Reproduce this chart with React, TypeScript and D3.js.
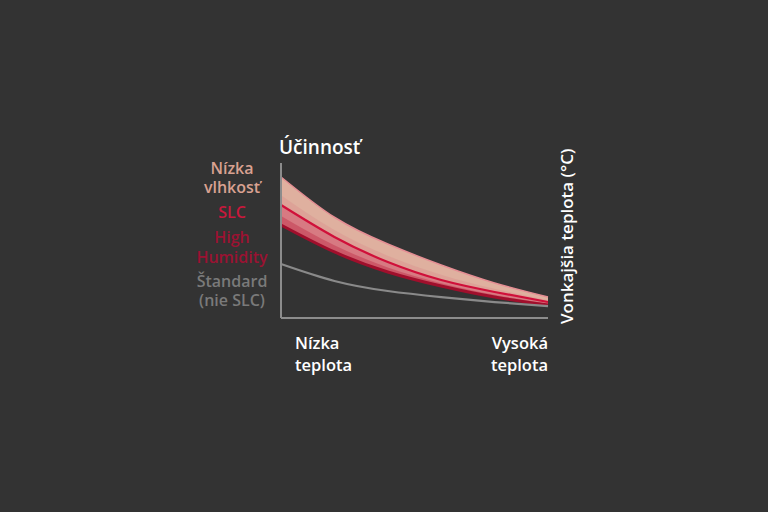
import React, { useEffect, useRef } from "react";
import * as d3 from "d3";

// x positions (low temp -> high temp), arbitrary units
const temps = [0, 2, 4, 6, 8, 10];
// efficiency readings, arbitrary units
const lowHumidity = [91, 65, 47.7, 34.2, 22.6, 13.5];
const slc = [72.9, 52.3, 36.1, 24.5, 16.8, 10.3];
const highHumidity = [60, 42.6, 29.7, 20.6, 13.5, 8.4];
const standard = [34.8, 23.9, 17.4, 13.5, 10.3, 7.7];

const legendLines = [
  { text: "Nízka", color: "#d9a191" },
  { text: "vlhkosť", color: "#d9a191" },
  { text: "SLC", color: "#c9183c" },
  { text: "High", color: "#9b1232" },
  { text: "Humidity", color: "#9b1232" },
  { text: "Štandard", color: "#7a7a7a" },
  { text: "(nie SLC)", color: "#7a7a7a" },
];
const legendY = [168, 187, 212, 237, 257, 281, 300];

export default function App() {
  const ref = useRef<SVGSVGElement>(null);

  useEffect(() => {
    const svg = d3.select(ref.current);
    svg.selectAll("*").remove();

    const width = 768;
    const height = 512;
    const margin = { top: 163, right: 220, bottom: 194, left: 281 };

    const x = d3
      .scaleLinear()
      .domain([0, 10])
      .range([margin.left, width - margin.right]);
    const y = d3
      .scaleLinear()
      .domain([0, 100])
      .range([height - margin.bottom, margin.top]);

    const font = "'Open Sans', 'DejaVu Sans', sans-serif";

    svg
      .append("rect")
      .attr("width", width)
      .attr("height", height)
      .attr("fill", "#333333");

    const rows = temps.map((t, i) => ({
      t,
      top: lowHumidity[i],
      mid: slc[i],
      low: highHumidity[i],
      std: standard[i],
    }));

    const curve = d3.curveNatural;

    const area = (a: (d: any) => number, b: (d: any) => number) =>
      d3
        .area<any>()
        .x((d) => x(d.t))
        .y0((d) => y(b(d)))
        .y1((d) => y(a(d)))
        .curve(curve);

    const line = (f: (d: any) => number) =>
      d3
        .line<any>()
        .x((d) => x(d.t))
        .y((d) => y(f(d)))
        .curve(curve);

    const plot = svg.append("g");

    // upper part of band (peach)
    plot
      .append("path")
      .datum(rows)
      .attr("d", area((d) => d.top, (d) => d.mid))
      .attr("fill", "#dfb09f");
    // blend stripe just above SLC line
    plot
      .append("path")
      .datum(rows)
      .attr("d", area((d) => d.mid + (d.top - d.mid) * 0.35, (d) => d.mid))
      .attr("fill", "#dc9c94")
      .attr("opacity", 0.7);
    // lower part of band (rose)
    plot
      .append("path")
      .datum(rows)
      .attr("d", area((d) => d.mid, (d) => d.low))
      .attr("fill", "#d77a82");
    plot
      .append("path")
      .datum(rows)
      .attr("d", area((d) => d.mid - (d.mid - d.low) * 0.55, (d) => d.low))
      .attr("fill", "#c95062")
      .attr("opacity", 0.8);

    // edges
    plot
      .append("path")
      .datum(rows)
      .attr("d", line((d) => d.top))
      .attr("fill", "none")
      .attr("stroke", "#e58e94")
      .attr("stroke-width", 1.5);
    plot
      .append("path")
      .datum(rows)
      .attr("d", line((d) => d.low))
      .attr("fill", "none")
      .attr("stroke", "#a00f2c")
      .attr("stroke-width", 3);
    plot
      .append("path")
      .datum(rows)
      .attr("d", line((d) => d.mid))
      .attr("fill", "none")
      .attr("stroke", "#d0103a")
      .attr("stroke-width", 2.2);
    plot
      .append("path")
      .datum(rows)
      .attr("d", line((d) => d.std))
      .attr("fill", "none")
      .attr("stroke", "#8a8a8a")
      .attr("stroke-width", 2.2);

    // axes
    svg
      .append("line")
      .attr("x1", x(0))
      .attr("x2", x(0))
      .attr("y1", y(100))
      .attr("y2", y(0))
      .attr("stroke", "#8c8c8c")
      .attr("stroke-width", 2);
    svg
      .append("line")
      .attr("x1", x(0))
      .attr("x2", x(10))
      .attr("y1", y(0))
      .attr("y2", y(0))
      .attr("stroke", "#8c8c8c")
      .attr("stroke-width", 2);

    // title
    svg
      .append("text")
      .attr("x", x(0) - 2)
      .attr("y", 154)
      .attr("fill", "#ffffff")
      .attr("font-family", font)
      .attr("font-size", 19)
      .attr("font-weight", 600)
      .text("Účinnosť");

    // legend (centred block left of the axis)
    svg
      .append("g")
      .selectAll("text")
      .data(legendLines)
      .join("text")
      .attr("x", 232)
      .attr("y", (_d, i) => legendY[i])
      .attr("dy", "0.35em")
      .attr("text-anchor", "middle")
      .attr("fill", (d) => d.color)
      .attr("font-family", font)
      .attr("font-size", 16)
      .attr("font-weight", 600)
      .text((d) => d.text);

    // x labels
    const xl = svg
      .append("g")
      .attr("fill", "#ffffff")
      .attr("font-family", font)
      .attr("font-size", 16.5)
      .attr("font-weight", 600);
    ["Nízka", "teplota"].forEach((t, i) =>
      xl
        .append("text")
        .attr("x", x(0) + 14)
        .attr("y", 343 + i * 22)
        .attr("dy", "0.35em")
        .text(t)
    );
    ["Vysoká", "teplota"].forEach((t, i) =>
      xl
        .append("text")
        .attr("x", x(10))
        .attr("y", 343 + i * 22)
        .attr("dy", "0.35em")
        .attr("text-anchor", "end")
        .text(t)
    );

    // rotated axis title
    svg
      .append("text")
      .attr("transform", `translate(567,${y(0) + 6}) rotate(-90)`)
      .attr("dy", "0.35em")
      .attr("fill", "#ffffff")
      .attr("font-family", font)
      .attr("font-size", 17)
      .attr("font-weight", 600)
      .text("Vonkajšia teplota (°C)");
  }, []);

  return (
    <svg
      ref={ref}
      width={768}
      height={512}
      style={{ position: "fixed", top: 0, left: 0 }}
    />
  );
}
